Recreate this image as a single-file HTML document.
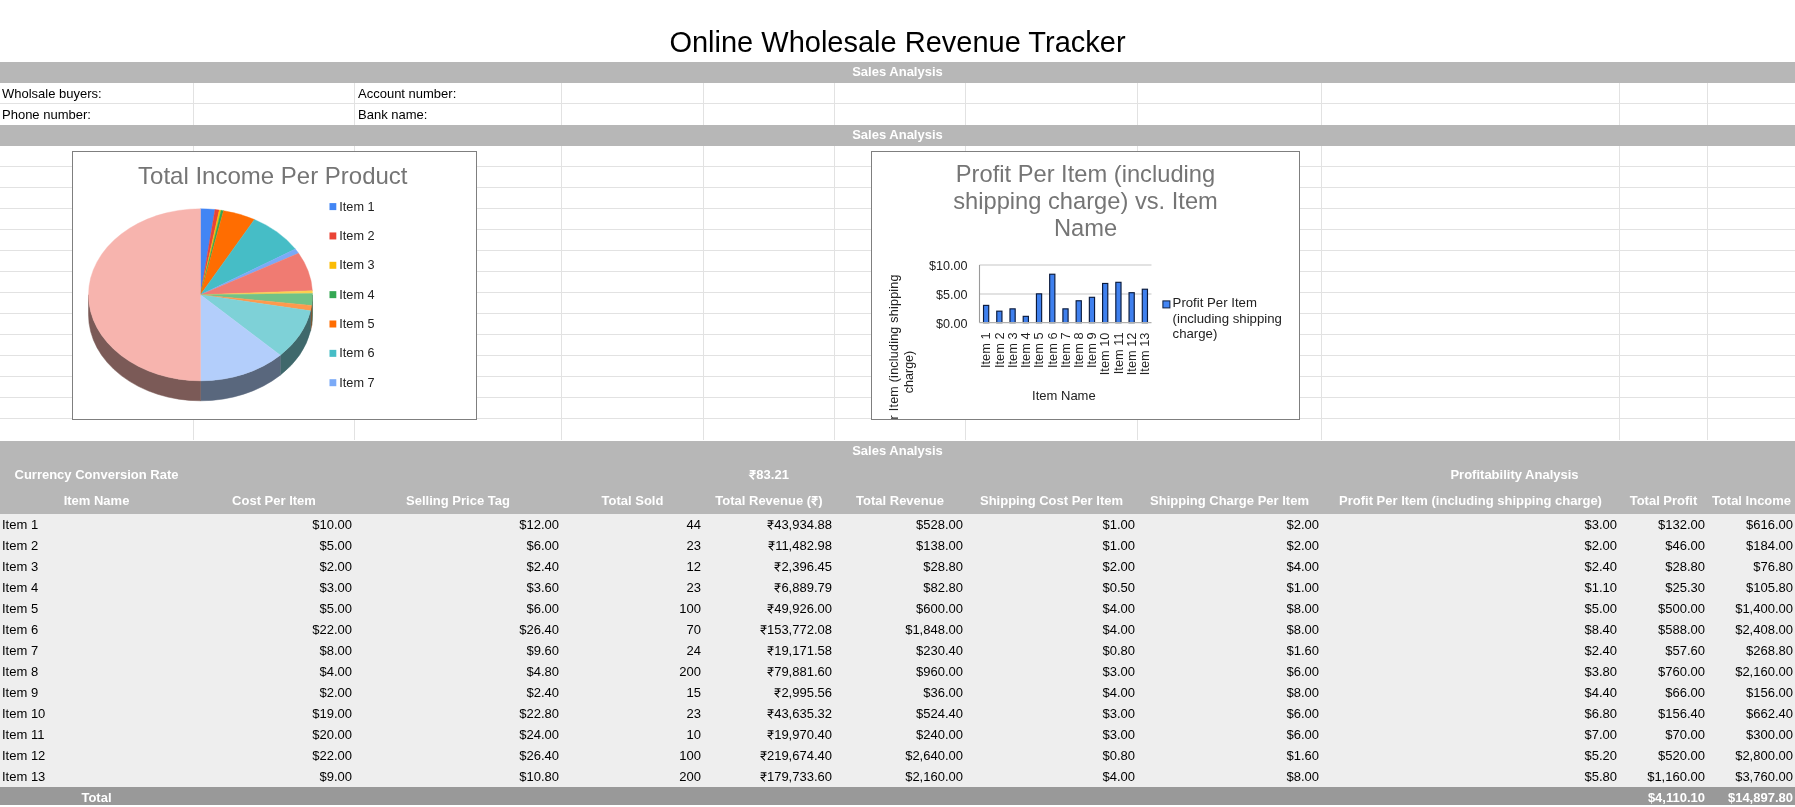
<!DOCTYPE html>
<html><head><meta charset="utf-8"><title>Online Wholesale Revenue Tracker</title>
<style>
html,body{margin:0;padding:0;background:#fff;}
body{width:1795px;height:807px;position:relative;overflow:hidden;font-family:"Liberation Sans",sans-serif;font-size:13px;color:#000;}
.a{position:absolute;}
#L{position:absolute;left:0;top:0;width:1795px;height:807px;will-change:transform;}
.t{position:absolute;white-space:nowrap;line-height:16px;height:16px;}
.r{text-align:right;}
.c{text-align:center;}
.h{color:#fff;font-weight:bold;}
.vl{position:absolute;width:1px;background:#e2e2e2;}
.hl{position:absolute;height:1px;background:#e2e2e2;left:0;width:1795px;}
</style></head><body>
<div id="BG">

<div class="vl" style="left:193px;top:83px;height:42px"></div>
<div class="vl" style="left:193px;top:146px;height:294px"></div>
<div class="vl" style="left:354px;top:83px;height:42px"></div>
<div class="vl" style="left:354px;top:146px;height:294px"></div>
<div class="vl" style="left:561px;top:83px;height:42px"></div>
<div class="vl" style="left:561px;top:146px;height:294px"></div>
<div class="vl" style="left:703px;top:83px;height:42px"></div>
<div class="vl" style="left:703px;top:146px;height:294px"></div>
<div class="vl" style="left:834px;top:83px;height:42px"></div>
<div class="vl" style="left:834px;top:146px;height:294px"></div>
<div class="vl" style="left:965px;top:83px;height:42px"></div>
<div class="vl" style="left:965px;top:146px;height:294px"></div>
<div class="vl" style="left:1137px;top:83px;height:42px"></div>
<div class="vl" style="left:1137px;top:146px;height:294px"></div>
<div class="vl" style="left:1321px;top:83px;height:42px"></div>
<div class="vl" style="left:1321px;top:146px;height:294px"></div>
<div class="vl" style="left:1619px;top:83px;height:42px"></div>
<div class="vl" style="left:1619px;top:146px;height:294px"></div>
<div class="vl" style="left:1707px;top:83px;height:42px"></div>
<div class="vl" style="left:1707px;top:146px;height:294px"></div>
<div class="hl" style="top:103px"></div>
<div class="hl" style="top:166px"></div>
<div class="hl" style="top:187px"></div>
<div class="hl" style="top:208px"></div>
<div class="hl" style="top:229px"></div>
<div class="hl" style="top:250px"></div>
<div class="hl" style="top:271px"></div>
<div class="hl" style="top:292px"></div>
<div class="hl" style="top:313px"></div>
<div class="hl" style="top:334px"></div>
<div class="hl" style="top:355px"></div>
<div class="hl" style="top:376px"></div>
<div class="hl" style="top:397px"></div>
<div class="hl" style="top:418px"></div>
<div class="a" style="left:0;top:62px;width:1795px;height:21px;background:#b7b7b7"></div>
<div class="a" style="left:0;top:125px;width:1795px;height:21px;background:#b7b7b7"></div>
<div class="a" style="left:0;top:440.7px;width:1795px;height:73.3px;background:#b7b7b7"></div>
<div class="a" style="left:0;top:514px;width:1795px;height:273px;background:#eeeeee"></div>
<div class="a" style="left:0;top:787px;width:1795px;height:17.7px;background:#999999"></div>
</div>
<div id="L">
<div class="t c" style="left:0;width:1795px;top:24px;height:36px;line-height:36px;font-size:29px;">Online Wholesale Revenue Tracker</div>
<div class="t c h" style="left:0;width:1795px;top:64px;">Sales Analysis</div>
<div class="t c h" style="left:0;width:1795px;top:127px;">Sales Analysis</div>
<div class="t c h" style="left:0;width:1795px;top:442.5px;">Sales Analysis</div>
<div class="t" style="left:2px;top:86px">Wholsale buyers:</div>
<div class="t" style="left:2px;top:107px">Phone number:</div>
<div class="t" style="left:358px;top:86px">Account number:</div>
<div class="t" style="left:358px;top:107px">Bank name:</div>
<div class="t c h" style="left:0px;width:193px;top:467px">Currency Conversion Rate</div>
<div class="t c h" style="left:704px;width:130px;top:467px"><svg width="7.23" height="9.4" viewBox="0 0 7.23 9.4" style="vertical-align:baseline;overflow:visible"><path d="M0.7,0.7 H6.7 M0.7,3.2 H6.7 M0.7,0.7 H2.6 C5.4,0.7 5.4,5.6 2.6,5.6 H1.2 L4.9,9.4" fill="none" stroke="#fff" stroke-width="1.6" stroke-linejoin="miter"/></svg>83.21</div>
<div class="t c h" style="left:1322px;width:385px;top:467px">Profitability Analysis</div>
<div class="t c h" style="left:0px;width:193px;top:493px">Item Name</div>
<div class="t c h" style="left:194px;width:160px;top:493px">Cost Per Item</div>
<div class="t c h" style="left:355px;width:206px;top:493px">Selling Price Tag</div>
<div class="t c h" style="left:562px;width:141px;top:493px">Total Sold</div>
<div class="t c h" style="left:704px;width:130px;top:493px">Total Revenue (<svg width="7.23" height="9.4" viewBox="0 0 7.23 9.4" style="vertical-align:baseline;overflow:visible"><path d="M0.7,0.7 H6.7 M0.7,3.2 H6.7 M0.7,0.7 H2.6 C5.4,0.7 5.4,5.6 2.6,5.6 H1.2 L4.9,9.4" fill="none" stroke="#fff" stroke-width="1.6" stroke-linejoin="miter"/></svg>)</div>
<div class="t c h" style="left:835px;width:130px;top:493px">Total Revenue</div>
<div class="t c h" style="left:966px;width:171px;top:493px">Shipping Cost Per Item</div>
<div class="t c h" style="left:1138px;width:183px;top:493px">Shipping Charge Per Item</div>
<div class="t c h" style="left:1322px;width:297px;top:493px">Profit Per Item (including shipping charge)</div>
<div class="t c h" style="left:1620px;width:87px;top:493px">Total Profit</div>
<div class="t c h" style="left:1708px;width:87px;top:493px">Total Income</div>
<div class="t" style="left:2px;top:517px">Item 1</div>
<div class="t r " style="left:194px;width:158px;top:517px">$10.00</div>
<div class="t r " style="left:355px;width:204px;top:517px">$12.00</div>
<div class="t r " style="left:562px;width:139px;top:517px">44</div>
<div class="t r " style="left:704px;width:128px;top:517px"><svg width="7.23" height="9.4" viewBox="0 0 7.23 9.4" style="vertical-align:baseline;overflow:visible"><path d="M0.7,0.7 H6.5 M0.7,3.2 H6.5 M0.7,0.7 H2.6 C5.4,0.7 5.4,5.6 2.6,5.6 H1.2 L4.9,9.4" fill="none" stroke="#000" stroke-width="1.05" stroke-linejoin="miter"/></svg>43,934.88</div>
<div class="t r " style="left:835px;width:128px;top:517px">$528.00</div>
<div class="t r " style="left:966px;width:169px;top:517px">$1.00</div>
<div class="t r " style="left:1138px;width:181px;top:517px">$2.00</div>
<div class="t r " style="left:1322px;width:295px;top:517px">$3.00</div>
<div class="t r " style="left:1620px;width:85px;top:517px">$132.00</div>
<div class="t r " style="left:1708px;width:85px;top:517px">$616.00</div>
<div class="t" style="left:2px;top:538px">Item 2</div>
<div class="t r " style="left:194px;width:158px;top:538px">$5.00</div>
<div class="t r " style="left:355px;width:204px;top:538px">$6.00</div>
<div class="t r " style="left:562px;width:139px;top:538px">23</div>
<div class="t r " style="left:704px;width:128px;top:538px"><svg width="7.23" height="9.4" viewBox="0 0 7.23 9.4" style="vertical-align:baseline;overflow:visible"><path d="M0.7,0.7 H6.5 M0.7,3.2 H6.5 M0.7,0.7 H2.6 C5.4,0.7 5.4,5.6 2.6,5.6 H1.2 L4.9,9.4" fill="none" stroke="#000" stroke-width="1.05" stroke-linejoin="miter"/></svg>11,482.98</div>
<div class="t r " style="left:835px;width:128px;top:538px">$138.00</div>
<div class="t r " style="left:966px;width:169px;top:538px">$1.00</div>
<div class="t r " style="left:1138px;width:181px;top:538px">$2.00</div>
<div class="t r " style="left:1322px;width:295px;top:538px">$2.00</div>
<div class="t r " style="left:1620px;width:85px;top:538px">$46.00</div>
<div class="t r " style="left:1708px;width:85px;top:538px">$184.00</div>
<div class="t" style="left:2px;top:559px">Item 3</div>
<div class="t r " style="left:194px;width:158px;top:559px">$2.00</div>
<div class="t r " style="left:355px;width:204px;top:559px">$2.40</div>
<div class="t r " style="left:562px;width:139px;top:559px">12</div>
<div class="t r " style="left:704px;width:128px;top:559px"><svg width="7.23" height="9.4" viewBox="0 0 7.23 9.4" style="vertical-align:baseline;overflow:visible"><path d="M0.7,0.7 H6.5 M0.7,3.2 H6.5 M0.7,0.7 H2.6 C5.4,0.7 5.4,5.6 2.6,5.6 H1.2 L4.9,9.4" fill="none" stroke="#000" stroke-width="1.05" stroke-linejoin="miter"/></svg>2,396.45</div>
<div class="t r " style="left:835px;width:128px;top:559px">$28.80</div>
<div class="t r " style="left:966px;width:169px;top:559px">$2.00</div>
<div class="t r " style="left:1138px;width:181px;top:559px">$4.00</div>
<div class="t r " style="left:1322px;width:295px;top:559px">$2.40</div>
<div class="t r " style="left:1620px;width:85px;top:559px">$28.80</div>
<div class="t r " style="left:1708px;width:85px;top:559px">$76.80</div>
<div class="t" style="left:2px;top:580px">Item 4</div>
<div class="t r " style="left:194px;width:158px;top:580px">$3.00</div>
<div class="t r " style="left:355px;width:204px;top:580px">$3.60</div>
<div class="t r " style="left:562px;width:139px;top:580px">23</div>
<div class="t r " style="left:704px;width:128px;top:580px"><svg width="7.23" height="9.4" viewBox="0 0 7.23 9.4" style="vertical-align:baseline;overflow:visible"><path d="M0.7,0.7 H6.5 M0.7,3.2 H6.5 M0.7,0.7 H2.6 C5.4,0.7 5.4,5.6 2.6,5.6 H1.2 L4.9,9.4" fill="none" stroke="#000" stroke-width="1.05" stroke-linejoin="miter"/></svg>6,889.79</div>
<div class="t r " style="left:835px;width:128px;top:580px">$82.80</div>
<div class="t r " style="left:966px;width:169px;top:580px">$0.50</div>
<div class="t r " style="left:1138px;width:181px;top:580px">$1.00</div>
<div class="t r " style="left:1322px;width:295px;top:580px">$1.10</div>
<div class="t r " style="left:1620px;width:85px;top:580px">$25.30</div>
<div class="t r " style="left:1708px;width:85px;top:580px">$105.80</div>
<div class="t" style="left:2px;top:601px">Item 5</div>
<div class="t r " style="left:194px;width:158px;top:601px">$5.00</div>
<div class="t r " style="left:355px;width:204px;top:601px">$6.00</div>
<div class="t r " style="left:562px;width:139px;top:601px">100</div>
<div class="t r " style="left:704px;width:128px;top:601px"><svg width="7.23" height="9.4" viewBox="0 0 7.23 9.4" style="vertical-align:baseline;overflow:visible"><path d="M0.7,0.7 H6.5 M0.7,3.2 H6.5 M0.7,0.7 H2.6 C5.4,0.7 5.4,5.6 2.6,5.6 H1.2 L4.9,9.4" fill="none" stroke="#000" stroke-width="1.05" stroke-linejoin="miter"/></svg>49,926.00</div>
<div class="t r " style="left:835px;width:128px;top:601px">$600.00</div>
<div class="t r " style="left:966px;width:169px;top:601px">$4.00</div>
<div class="t r " style="left:1138px;width:181px;top:601px">$8.00</div>
<div class="t r " style="left:1322px;width:295px;top:601px">$5.00</div>
<div class="t r " style="left:1620px;width:85px;top:601px">$500.00</div>
<div class="t r " style="left:1708px;width:85px;top:601px">$1,400.00</div>
<div class="t" style="left:2px;top:622px">Item 6</div>
<div class="t r " style="left:194px;width:158px;top:622px">$22.00</div>
<div class="t r " style="left:355px;width:204px;top:622px">$26.40</div>
<div class="t r " style="left:562px;width:139px;top:622px">70</div>
<div class="t r " style="left:704px;width:128px;top:622px"><svg width="7.23" height="9.4" viewBox="0 0 7.23 9.4" style="vertical-align:baseline;overflow:visible"><path d="M0.7,0.7 H6.5 M0.7,3.2 H6.5 M0.7,0.7 H2.6 C5.4,0.7 5.4,5.6 2.6,5.6 H1.2 L4.9,9.4" fill="none" stroke="#000" stroke-width="1.05" stroke-linejoin="miter"/></svg>153,772.08</div>
<div class="t r " style="left:835px;width:128px;top:622px">$1,848.00</div>
<div class="t r " style="left:966px;width:169px;top:622px">$4.00</div>
<div class="t r " style="left:1138px;width:181px;top:622px">$8.00</div>
<div class="t r " style="left:1322px;width:295px;top:622px">$8.40</div>
<div class="t r " style="left:1620px;width:85px;top:622px">$588.00</div>
<div class="t r " style="left:1708px;width:85px;top:622px">$2,408.00</div>
<div class="t" style="left:2px;top:643px">Item 7</div>
<div class="t r " style="left:194px;width:158px;top:643px">$8.00</div>
<div class="t r " style="left:355px;width:204px;top:643px">$9.60</div>
<div class="t r " style="left:562px;width:139px;top:643px">24</div>
<div class="t r " style="left:704px;width:128px;top:643px"><svg width="7.23" height="9.4" viewBox="0 0 7.23 9.4" style="vertical-align:baseline;overflow:visible"><path d="M0.7,0.7 H6.5 M0.7,3.2 H6.5 M0.7,0.7 H2.6 C5.4,0.7 5.4,5.6 2.6,5.6 H1.2 L4.9,9.4" fill="none" stroke="#000" stroke-width="1.05" stroke-linejoin="miter"/></svg>19,171.58</div>
<div class="t r " style="left:835px;width:128px;top:643px">$230.40</div>
<div class="t r " style="left:966px;width:169px;top:643px">$0.80</div>
<div class="t r " style="left:1138px;width:181px;top:643px">$1.60</div>
<div class="t r " style="left:1322px;width:295px;top:643px">$2.40</div>
<div class="t r " style="left:1620px;width:85px;top:643px">$57.60</div>
<div class="t r " style="left:1708px;width:85px;top:643px">$268.80</div>
<div class="t" style="left:2px;top:664px">Item 8</div>
<div class="t r " style="left:194px;width:158px;top:664px">$4.00</div>
<div class="t r " style="left:355px;width:204px;top:664px">$4.80</div>
<div class="t r " style="left:562px;width:139px;top:664px">200</div>
<div class="t r " style="left:704px;width:128px;top:664px"><svg width="7.23" height="9.4" viewBox="0 0 7.23 9.4" style="vertical-align:baseline;overflow:visible"><path d="M0.7,0.7 H6.5 M0.7,3.2 H6.5 M0.7,0.7 H2.6 C5.4,0.7 5.4,5.6 2.6,5.6 H1.2 L4.9,9.4" fill="none" stroke="#000" stroke-width="1.05" stroke-linejoin="miter"/></svg>79,881.60</div>
<div class="t r " style="left:835px;width:128px;top:664px">$960.00</div>
<div class="t r " style="left:966px;width:169px;top:664px">$3.00</div>
<div class="t r " style="left:1138px;width:181px;top:664px">$6.00</div>
<div class="t r " style="left:1322px;width:295px;top:664px">$3.80</div>
<div class="t r " style="left:1620px;width:85px;top:664px">$760.00</div>
<div class="t r " style="left:1708px;width:85px;top:664px">$2,160.00</div>
<div class="t" style="left:2px;top:685px">Item 9</div>
<div class="t r " style="left:194px;width:158px;top:685px">$2.00</div>
<div class="t r " style="left:355px;width:204px;top:685px">$2.40</div>
<div class="t r " style="left:562px;width:139px;top:685px">15</div>
<div class="t r " style="left:704px;width:128px;top:685px"><svg width="7.23" height="9.4" viewBox="0 0 7.23 9.4" style="vertical-align:baseline;overflow:visible"><path d="M0.7,0.7 H6.5 M0.7,3.2 H6.5 M0.7,0.7 H2.6 C5.4,0.7 5.4,5.6 2.6,5.6 H1.2 L4.9,9.4" fill="none" stroke="#000" stroke-width="1.05" stroke-linejoin="miter"/></svg>2,995.56</div>
<div class="t r " style="left:835px;width:128px;top:685px">$36.00</div>
<div class="t r " style="left:966px;width:169px;top:685px">$4.00</div>
<div class="t r " style="left:1138px;width:181px;top:685px">$8.00</div>
<div class="t r " style="left:1322px;width:295px;top:685px">$4.40</div>
<div class="t r " style="left:1620px;width:85px;top:685px">$66.00</div>
<div class="t r " style="left:1708px;width:85px;top:685px">$156.00</div>
<div class="t" style="left:2px;top:706px">Item 10</div>
<div class="t r " style="left:194px;width:158px;top:706px">$19.00</div>
<div class="t r " style="left:355px;width:204px;top:706px">$22.80</div>
<div class="t r " style="left:562px;width:139px;top:706px">23</div>
<div class="t r " style="left:704px;width:128px;top:706px"><svg width="7.23" height="9.4" viewBox="0 0 7.23 9.4" style="vertical-align:baseline;overflow:visible"><path d="M0.7,0.7 H6.5 M0.7,3.2 H6.5 M0.7,0.7 H2.6 C5.4,0.7 5.4,5.6 2.6,5.6 H1.2 L4.9,9.4" fill="none" stroke="#000" stroke-width="1.05" stroke-linejoin="miter"/></svg>43,635.32</div>
<div class="t r " style="left:835px;width:128px;top:706px">$524.40</div>
<div class="t r " style="left:966px;width:169px;top:706px">$3.00</div>
<div class="t r " style="left:1138px;width:181px;top:706px">$6.00</div>
<div class="t r " style="left:1322px;width:295px;top:706px">$6.80</div>
<div class="t r " style="left:1620px;width:85px;top:706px">$156.40</div>
<div class="t r " style="left:1708px;width:85px;top:706px">$662.40</div>
<div class="t" style="left:2px;top:727px">Item 11</div>
<div class="t r " style="left:194px;width:158px;top:727px">$20.00</div>
<div class="t r " style="left:355px;width:204px;top:727px">$24.00</div>
<div class="t r " style="left:562px;width:139px;top:727px">10</div>
<div class="t r " style="left:704px;width:128px;top:727px"><svg width="7.23" height="9.4" viewBox="0 0 7.23 9.4" style="vertical-align:baseline;overflow:visible"><path d="M0.7,0.7 H6.5 M0.7,3.2 H6.5 M0.7,0.7 H2.6 C5.4,0.7 5.4,5.6 2.6,5.6 H1.2 L4.9,9.4" fill="none" stroke="#000" stroke-width="1.05" stroke-linejoin="miter"/></svg>19,970.40</div>
<div class="t r " style="left:835px;width:128px;top:727px">$240.00</div>
<div class="t r " style="left:966px;width:169px;top:727px">$3.00</div>
<div class="t r " style="left:1138px;width:181px;top:727px">$6.00</div>
<div class="t r " style="left:1322px;width:295px;top:727px">$7.00</div>
<div class="t r " style="left:1620px;width:85px;top:727px">$70.00</div>
<div class="t r " style="left:1708px;width:85px;top:727px">$300.00</div>
<div class="t" style="left:2px;top:748px">Item 12</div>
<div class="t r " style="left:194px;width:158px;top:748px">$22.00</div>
<div class="t r " style="left:355px;width:204px;top:748px">$26.40</div>
<div class="t r " style="left:562px;width:139px;top:748px">100</div>
<div class="t r " style="left:704px;width:128px;top:748px"><svg width="7.23" height="9.4" viewBox="0 0 7.23 9.4" style="vertical-align:baseline;overflow:visible"><path d="M0.7,0.7 H6.5 M0.7,3.2 H6.5 M0.7,0.7 H2.6 C5.4,0.7 5.4,5.6 2.6,5.6 H1.2 L4.9,9.4" fill="none" stroke="#000" stroke-width="1.05" stroke-linejoin="miter"/></svg>219,674.40</div>
<div class="t r " style="left:835px;width:128px;top:748px">$2,640.00</div>
<div class="t r " style="left:966px;width:169px;top:748px">$0.80</div>
<div class="t r " style="left:1138px;width:181px;top:748px">$1.60</div>
<div class="t r " style="left:1322px;width:295px;top:748px">$5.20</div>
<div class="t r " style="left:1620px;width:85px;top:748px">$520.00</div>
<div class="t r " style="left:1708px;width:85px;top:748px">$2,800.00</div>
<div class="t" style="left:2px;top:769px">Item 13</div>
<div class="t r " style="left:194px;width:158px;top:769px">$9.00</div>
<div class="t r " style="left:355px;width:204px;top:769px">$10.80</div>
<div class="t r " style="left:562px;width:139px;top:769px">200</div>
<div class="t r " style="left:704px;width:128px;top:769px"><svg width="7.23" height="9.4" viewBox="0 0 7.23 9.4" style="vertical-align:baseline;overflow:visible"><path d="M0.7,0.7 H6.5 M0.7,3.2 H6.5 M0.7,0.7 H2.6 C5.4,0.7 5.4,5.6 2.6,5.6 H1.2 L4.9,9.4" fill="none" stroke="#000" stroke-width="1.05" stroke-linejoin="miter"/></svg>179,733.60</div>
<div class="t r " style="left:835px;width:128px;top:769px">$2,160.00</div>
<div class="t r " style="left:966px;width:169px;top:769px">$4.00</div>
<div class="t r " style="left:1138px;width:181px;top:769px">$8.00</div>
<div class="t r " style="left:1322px;width:295px;top:769px">$5.80</div>
<div class="t r " style="left:1620px;width:85px;top:769px">$1,160.00</div>
<div class="t r " style="left:1708px;width:85px;top:769px">$3,760.00</div>
<div class="t c h" style="left:0px;width:193px;top:789.5px">Total</div>
<div class="t r h" style="left:1620px;width:85px;top:789.5px">$4,110.10</div>
<div class="t r h" style="left:1708px;width:85px;top:789.5px">$14,897.80</div>
<svg class="a" style="left:72px;top:151px" width="405" height="269" viewBox="0 0 405 269" font-family="Liberation Sans, sans-serif">
<rect x="0.5" y="0.5" width="404" height="268" fill="#fff" stroke="#7f7f7f" stroke-width="1"/>
<text x="200.8" y="33" text-anchor="middle" font-size="24" fill="#757575">Total Income Per Product</text>
<path d="M240.50,143.80 A112,86 0 0 1 239.64,154.45 L239.64,174.45 A112,86 0 0 0 240.50,163.80 Z" fill="#386143" stroke="#386143" stroke-width="0.5"/>
<path d="M239.64,154.45 A112,86 0 0 1 238.54,159.83 L238.54,179.83 A112,86 0 0 0 239.64,174.45 Z" fill="#7f4c26" stroke="#7f4c26" stroke-width="0.5"/>
<path d="M238.54,159.83 A112,86 0 0 1 208.29,204.15 L208.29,224.15 A112,86 0 0 0 238.54,179.83 Z" fill="#3f686b" stroke="#3f686b" stroke-width="0.5"/>
<path d="M208.29,204.15 A112,86 0 0 1 128.50,229.80 L128.50,249.80 A112,86 0 0 0 208.29,224.15 Z" fill="#59677d" stroke="#59677d" stroke-width="0.5"/>
<path d="M128.50,229.80 A112,86 0 0 1 16.50,143.80 L16.50,163.80 A112,86 0 0 0 128.50,249.80 Z" fill="#7b5a57" stroke="#7b5a57" stroke-width="0.5"/>
<path d="M128.5,143.8 L128.50,57.80 A112,86 0 0 1 143.01,58.52 Z" fill="#4285F4" stroke="#4285F4" stroke-width="0.4"/>
<path d="M128.5,143.8 L143.01,58.52 A112,86 0 0 1 147.31,59.02 Z" fill="#EA4335" stroke="#EA4335" stroke-width="0.4"/>
<path d="M128.5,143.8 L147.31,59.02 A112,86 0 0 1 149.09,59.27 Z" fill="#FBBC04" stroke="#FBBC04" stroke-width="0.4"/>
<path d="M128.5,143.8 L149.09,59.27 A112,86 0 0 1 151.54,59.64 Z" fill="#34A853" stroke="#34A853" stroke-width="0.4"/>
<path d="M128.5,143.8 L151.54,59.64 A112,86 0 0 1 182.43,68.43 Z" fill="#FF6D01" stroke="#FF6D01" stroke-width="0.4"/>
<path d="M128.5,143.8 L182.43,68.43 A112,86 0 0 1 223.36,98.08 Z" fill="#46BDC6" stroke="#46BDC6" stroke-width="0.4"/>
<path d="M128.5,143.8 L223.36,98.08 A112,86 0 0 1 226.58,102.28 Z" fill="#7BAAF7" stroke="#7BAAF7" stroke-width="0.4"/>
<path d="M128.5,143.8 L226.58,102.28 A112,86 0 0 1 240.37,139.64 Z" fill="#F07B72" stroke="#F07B72" stroke-width="0.4"/>
<path d="M128.5,143.8 L240.37,139.64 A112,86 0 0 1 240.49,142.47 Z" fill="#FCD04F" stroke="#FCD04F" stroke-width="0.4"/>
<path d="M128.5,143.8 L240.49,142.47 A112,86 0 0 1 239.64,154.45 Z" fill="#71C287" stroke="#71C287" stroke-width="0.4"/>
<path d="M128.5,143.8 L239.64,154.45 A112,86 0 0 1 238.54,159.83 Z" fill="#FF994D" stroke="#FF994D" stroke-width="0.4"/>
<path d="M128.5,143.8 L238.54,159.83 A112,86 0 0 1 208.29,204.15 Z" fill="#7ED1D7" stroke="#7ED1D7" stroke-width="0.4"/>
<path d="M128.5,143.8 L208.29,204.15 A112,86 0 0 1 128.50,229.80 Z" fill="#B3CEFB" stroke="#B3CEFB" stroke-width="0.4"/>
<path d="M128.5,143.8 L128.50,229.80 A112,86 0 0 1 128.50,57.80 Z" fill="#F7B4AE" stroke="#F7B4AE" stroke-width="0.4"/>
<rect x="257.5" y="52.10" width="6.8" height="7" fill="#4285F4"/>
<text x="267.3" y="59.60" font-size="12.7" fill="#222">Item 1</text>
<rect x="257.5" y="81.45" width="6.8" height="7" fill="#EA4335"/>
<text x="267.3" y="88.95" font-size="12.7" fill="#222">Item 2</text>
<rect x="257.5" y="110.80" width="6.8" height="7" fill="#FBBC04"/>
<text x="267.3" y="118.30" font-size="12.7" fill="#222">Item 3</text>
<rect x="257.5" y="140.15" width="6.8" height="7" fill="#34A853"/>
<text x="267.3" y="147.65" font-size="12.7" fill="#222">Item 4</text>
<rect x="257.5" y="169.50" width="6.8" height="7" fill="#FF6D01"/>
<text x="267.3" y="177.00" font-size="12.7" fill="#222">Item 5</text>
<rect x="257.5" y="198.85" width="6.8" height="7" fill="#46BDC6"/>
<text x="267.3" y="206.35" font-size="12.7" fill="#222">Item 6</text>
<rect x="257.5" y="228.20" width="6.8" height="7" fill="#7BAAF7"/>
<text x="267.3" y="235.70" font-size="12.7" fill="#222">Item 7</text>
</svg>
<svg class="a" style="left:871px;top:151px" width="429" height="269" viewBox="0 0 429 269" font-family="Liberation Sans, sans-serif">
<rect x="0.5" y="0.5" width="428" height="268" fill="#fff" stroke="#7f7f7f" stroke-width="1"/>
<text x="214.5" y="30.70" text-anchor="middle" font-size="23.7" fill="#757575">Profit Per Item (including</text>
<text x="214.5" y="58.00" text-anchor="middle" font-size="23.7" fill="#757575">shipping charge) vs. Item</text>
<text x="214.5" y="85.30" text-anchor="middle" font-size="23.7" fill="#757575">Name</text>
<g stroke="#c6c6c6" stroke-width="1.2" fill="none">
<line x1="108.5" y1="114.0" x2="280.5" y2="114.0"/>
<line x1="108.5" y1="143.0" x2="280.5" y2="143.0"/>
</g>
<line x1="108.5" y1="114.0" x2="108.5" y2="171.7" stroke="#9a9a9a" stroke-width="1.1"/>
<rect x="112.52" y="154.39" width="5.2" height="17.31" fill="#3f80ee" stroke="#0a1a3c" stroke-width="1.15"/>
<rect x="125.75" y="160.16" width="5.2" height="11.54" fill="#3f80ee" stroke="#0a1a3c" stroke-width="1.15"/>
<rect x="138.98" y="157.85" width="5.2" height="13.85" fill="#3f80ee" stroke="#0a1a3c" stroke-width="1.15"/>
<rect x="152.21" y="165.35" width="5.2" height="6.35" fill="#3f80ee" stroke="#0a1a3c" stroke-width="1.15"/>
<rect x="165.44" y="142.85" width="5.2" height="28.85" fill="#3f80ee" stroke="#0a1a3c" stroke-width="1.15"/>
<rect x="178.67" y="123.23" width="5.2" height="48.47" fill="#3f80ee" stroke="#0a1a3c" stroke-width="1.15"/>
<rect x="191.90" y="157.85" width="5.2" height="13.85" fill="#3f80ee" stroke="#0a1a3c" stroke-width="1.15"/>
<rect x="205.13" y="149.77" width="5.2" height="21.93" fill="#3f80ee" stroke="#0a1a3c" stroke-width="1.15"/>
<rect x="218.36" y="146.31" width="5.2" height="25.39" fill="#3f80ee" stroke="#0a1a3c" stroke-width="1.15"/>
<rect x="231.59" y="132.46" width="5.2" height="39.24" fill="#3f80ee" stroke="#0a1a3c" stroke-width="1.15"/>
<rect x="244.82" y="131.31" width="5.2" height="40.39" fill="#3f80ee" stroke="#0a1a3c" stroke-width="1.15"/>
<rect x="258.05" y="141.70" width="5.2" height="30.00" fill="#3f80ee" stroke="#0a1a3c" stroke-width="1.15"/>
<rect x="271.28" y="138.23" width="5.2" height="33.47" fill="#3f80ee" stroke="#0a1a3c" stroke-width="1.15"/>
<line x1="108.5" y1="171.7" x2="280.5" y2="171.7" stroke="#b0b0b0" stroke-width="1.2"/>
<text x="96.60000000000002" y="119.30" text-anchor="end" font-size="12.6" fill="#222">$10.00</text>
<text x="96.60000000000002" y="147.80" text-anchor="end" font-size="12.6" fill="#222">$5.00</text>
<text x="96.60000000000002" y="176.80" text-anchor="end" font-size="12.6" fill="#222">$0.00</text>
<text transform="translate(119.42,181.50) rotate(-90)" text-anchor="end" font-size="12.8" fill="#222">Item 1</text>
<text transform="translate(132.65,181.50) rotate(-90)" text-anchor="end" font-size="12.8" fill="#222">Item 2</text>
<text transform="translate(145.88,181.50) rotate(-90)" text-anchor="end" font-size="12.8" fill="#222">Item 3</text>
<text transform="translate(159.11,181.50) rotate(-90)" text-anchor="end" font-size="12.8" fill="#222">Item 4</text>
<text transform="translate(172.34,181.50) rotate(-90)" text-anchor="end" font-size="12.8" fill="#222">Item 5</text>
<text transform="translate(185.57,181.50) rotate(-90)" text-anchor="end" font-size="12.8" fill="#222">Item 6</text>
<text transform="translate(198.80,181.50) rotate(-90)" text-anchor="end" font-size="12.8" fill="#222">Item 7</text>
<text transform="translate(212.03,181.50) rotate(-90)" text-anchor="end" font-size="12.8" fill="#222">Item 8</text>
<text transform="translate(225.26,181.50) rotate(-90)" text-anchor="end" font-size="12.8" fill="#222">Item 9</text>
<text transform="translate(238.49,181.50) rotate(-90)" text-anchor="end" font-size="12.8" fill="#222">Item 10</text>
<text transform="translate(251.72,181.50) rotate(-90)" text-anchor="end" font-size="12.8" fill="#222">Item 11</text>
<text transform="translate(264.95,181.50) rotate(-90)" text-anchor="end" font-size="12.8" fill="#222">Item 12</text>
<text transform="translate(278.18,181.50) rotate(-90)" text-anchor="end" font-size="12.8" fill="#222">Item 13</text>
<text x="192.9000000000001" y="248.8" text-anchor="middle" font-size="13" fill="#222">Item Name</text>
<text transform="translate(27.00,221) rotate(-90)" text-anchor="middle" font-size="12.5" textLength="195" lengthAdjust="spacing" fill="#222">Profit Per Item (including shipping</text>
<text transform="translate(42.40,221) rotate(-90)" text-anchor="middle" font-size="12.5" fill="#222">charge)</text>
<rect x="291.9000000000001" y="149.89999999999998" width="7" height="7" fill="#4285F4" stroke="#0b1d40" stroke-width="1"/>
<text x="301.5999999999999" y="156.30" font-size="13.2" fill="#222">Profit Per Item</text>
<text x="301.5999999999999" y="171.60" font-size="13.2" fill="#222">(including shipping</text>
<text x="301.5999999999999" y="186.90" font-size="13.2" fill="#222">charge)</text>
<rect x="0.5" y="0.5" width="428" height="268" fill="none" stroke="#7f7f7f" stroke-width="1"/>
</svg>
</div>
</body></html>
